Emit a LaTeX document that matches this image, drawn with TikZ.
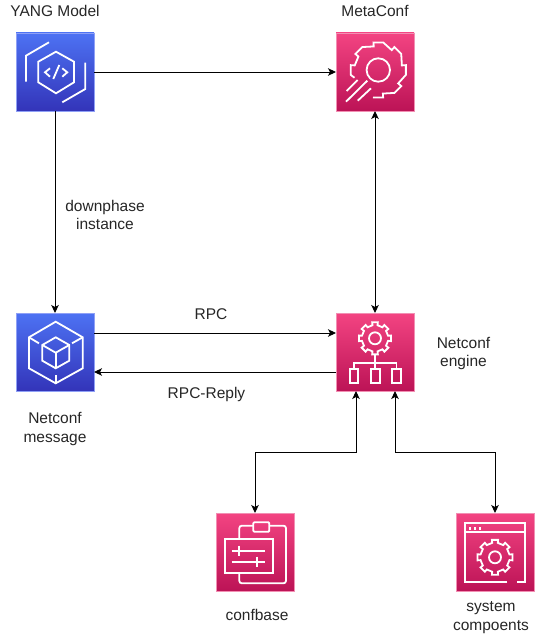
\documentclass[tikz,border=0pt]{standalone}
\usepackage{fontspec}
\setmainfont{Liberation Sans}
\usetikzlibrary{arrows.meta}
\definecolor{bluetop}{HTML}{4D72F3}
\definecolor{bluebot}{HTML}{3334B9}
\definecolor{pinktop}{HTML}{F34482}
\definecolor{pinkbot}{HTML}{BC1356}
\definecolor{blueedge}{HTML}{8FA0F6}
\definecolor{pinkedge}{HTML}{F28FB3}
\tikzset{
  tile/.style={minimum size=78pt,inner sep=0pt,outer sep=0pt,line width=.8pt},
  bluetile/.style={tile,draw=blueedge,top color=bluetop,bottom color=bluebot},
  pinktile/.style={tile,draw=pinkedge,top color=pinktop,bottom color=pinkbot},
  icon/.style={draw=white,line width=1.8pt,line join=miter,fill=none},
  link/.style={draw=black,line width=.9pt,-{Stealth[length=8pt,width=7.5pt,inset=2pt]}},
  biglink/.style={draw=black,line width=.9pt,{Stealth[length=8pt,width=7.5pt,inset=2pt]}-{Stealth[length=8pt,width=7.5pt,inset=2pt]}},
  lbl/.style={font=\fontsize{15.5}{18.7}\selectfont,text=black!85,align=center,inner sep=0pt}
}
% closed eight-tooth gear centred on the current origin: outer radius, valley radius, hub radius
\newcommand{\closedgear}[3]{%
  \draw[icon] ({-11}:#2) \foreach \k [evaluate=\k as \a using 45*\k] in {0,...,7} {
     -- ({\a-11}:#2) -- ({\a-10}:#1) -- ({\a+10}:#1) -- ({\a+11}:#2)} -- cycle;
  \draw[icon] (0,0) circle[radius=#3];
}
\begin{document}
\begin{tikzpicture}[x=1pt,y=-1pt]
\useasboundingbox (0,0) rectangle (537,636);
% tiles
\node[bluetile] (yang) at (55,72) {};
\node[pinktile] (meta) at (375,72) {};
\node[bluetile] (msg) at (55,352) {};
\node[pinktile] (eng) at (375,352) {};
\node[pinktile] (conf) at (255,552) {};
\node[pinktile] (sys) at (495,552) {};
% YANG icon
\begin{scope}[shift={(yang.north west)}]
  \draw[icon] (40,18.7) -- (58,28.7) -- (58,49.3) -- (40,60.3) -- (22.3,49.3) -- (22.3,28.7) -- cycle;
  \draw[icon] (33,9.3) -- (10,22.7) -- (10,48.7);
  \draw[icon] (69.3,29.7) -- (69.3,56) -- (46.3,69.3);
  \draw[icon] (34,35.3) -- (29,39.3) -- (34,43.7);
  \draw[icon] (43.3,32) -- (37.3,46);
  \draw[icon] (46.3,35.3) -- (51.3,39.3) -- (46.3,43.7);
\end{scope}
% MetaConf icon
\begin{scope}[shift={(meta.north west)}]
  \begin{scope}[shift={(42.3,37)}]
    \draw[icon] (101:28) \foreach \k [evaluate=\k as \a using 45*\k] in {2,1,0,-1,-2,-3} {
       -- ({\a+10}:28) -- ({\a-10}:28) -- ({\a-11}:24)} -- (-169:24) -- (-170:28) -- (-190:28) -- (-198:25);
    \draw[icon] (0,0) circle[radius=11.7];
  \end{scope}
  \draw[icon] (10.7,58) -- (21.7,47);
  \draw[icon] (10,68.7) -- (31.3,47.7);
  \draw[icon] (21.7,67.7) -- (35,55.3);
\end{scope}
% message icon
\begin{scope}[shift={(msg.north west)}]
  \draw[icon] (39.7,8.7) -- (66.7,24.3) -- (66.7,55.3) -- (39.7,70.3) -- (13,55.3) -- (13,24.3) -- cycle;
  \draw[icon] (39.7,24.3) -- (53.3,32) -- (53.3,47.7) -- (39.7,55.3) -- (26.3,47.7) -- (26.3,32) -- cycle;
  \draw[icon] (26.3,32) -- (39.7,39.7) -- (53.3,32);
  \draw[icon] (39.7,39.7) -- (39.7,55.3);
  \draw[icon] (13,24.3) -- (23,30.3);
  \draw[icon] (66.7,24.3) -- (56,30.3);
  \draw[icon] (39.7,70.3) -- (39.7,62);
\end{scope}
% engine icon
\begin{scope}[shift={(eng.north west)}]
  \begin{scope}[shift={(39,25.3)}]\closedgear{16.3}{13.3}{6}\end{scope}
  \draw[icon] (39,42) -- (39,56.3);
  \draw[icon] (18,56.3) -- (18,50.3) -- (60.5,50.3) -- (60.5,56.3);
  \draw[icon] (14,56.3) rectangle (22.3,69.7);
  \draw[icon] (35,56.3) rectangle (43.7,69.7);
  \draw[icon] (56.3,56.3) rectangle (65,69.7);
\end{scope}
% confbase icon
\begin{scope}[shift={(conf.north west)}]
  \draw[icon,rounded corners=2.5pt] (37.3,12.7) -- (23.3,12.7) -- (23.3,26);
  \draw[icon,rounded corners=2.5pt] (53.3,12.7) -- (70,12.7) -- (70,70.3) -- (23.3,70.3) -- (23.3,60.3);
  \draw[icon,rounded corners=1pt] (37.3,9.3) rectangle (53.3,18.7);
  \draw[icon] (9,26.3) rectangle (56.7,60.3);
  \draw[icon] (15.7,37.7) -- (49,37.7);
  \draw[icon] (23.3,32.7) -- (23.3,42.7);
  \draw[icon] (15.7,48.7) -- (49,48.7);
  \draw[icon] (40.7,43.7) -- (40.7,53.7);
\end{scope}
% system icon
\begin{scope}[shift={(sys.north west)}]
  \draw[icon] (51.3,68.7) -- (9,68.7) -- (9,10.3) -- (69,10.3) -- (69,68.7) -- (60.7,68.7);
  \draw[icon] (9,19.3) -- (69,19.3);
  \fill[white] (12.8,14.1) rectangle +(2.6,2.6);
  \fill[white] (17.8,14.1) rectangle +(2.6,2.6);
  \fill[white] (22.8,14.1) rectangle +(2.6,2.6);
  \begin{scope}[shift={(39,44.3)}]\closedgear{17.7}{14.7}{6}\end{scope}
\end{scope}
% connectors
\draw[link] (yang.east) -- (meta.west);
\draw[link] (yang.south) -- (msg.north);
\draw[biglink] (meta.south) -- (eng.north);
\draw[link] ([yshift=19pt]msg.east) -- ([yshift=19pt]eng.west);
\draw[link] ([yshift=-20pt]eng.west) -- ([yshift=-20pt]msg.east);
\draw[biglink] ([xshift=-19pt]eng.south) |- ++(0,61) -| (conf.north);
\draw[biglink] ([xshift=20pt]eng.south) |- ++(0,61) -| (sys.north);
% labels
\node[lbl] (t1) at (55,10.5) {YANG Model};
\node[lbl] (t2) at (375,10.5) {MetaConf};
\node[lbl] (t3) at (105,215) {downphase\\instance};
\node[lbl] (t4) at (55,429) {Netconf\\message};
\node[lbl] (t5) at (211,314) {RPC};
\node[lbl] (t6) at (206.5,394.5) {RPC-Reply};
\node[lbl] (t7) at (463.5,353.5) {Netconf\\engine};
\node[lbl] (t8) at (257,615) {confbase};
\node[lbl] (t9) at (491,617.5) {system\\compoents};
\end{tikzpicture}
\end{document}
